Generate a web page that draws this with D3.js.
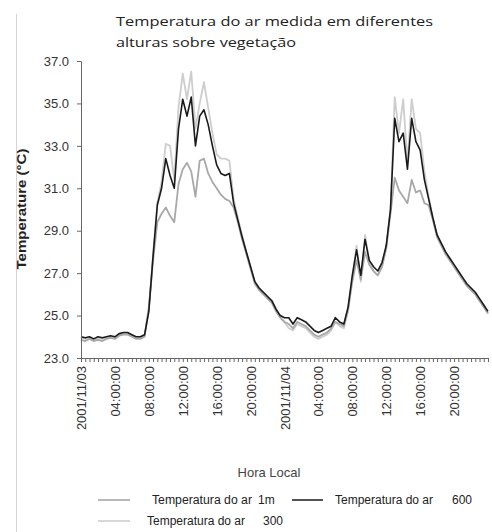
<!DOCTYPE html>
<html>
<head>
<meta charset="utf-8">
<script src="https://cdn.jsdelivr.net/npm/d3@7"></script>
<style>
  html, body { margin: 0; padding: 0; background: #fff; }
  svg { display: block; }
</style>
</head>
<body>
<svg id="chart" width="492" height="532"></svg>
<script>
// Air temperature readings, one value every 30 minutes from 2001/11/03 00:00
const startTime = new Date(2001, 10, 3, 0, 0);
const endTime = new Date(2001, 10, 5, 0, 0);
const stepMinutes = 30;

const seriesNames = ["Temperatura do ar  300", "Temperatura do ar  1m", "Temperatura do ar  600"];

const temp300 = [
  23.95, 23.9, 23.95, 23.85, 23.9, 23.9, 23.95, 24.0, 23.95, 24.1, 24.15, 24.15, 24.05, 23.95, 23.95, 24.05,
  25.3, 27.9, 30.3, 31.3, 33.1, 33.0, 31.4, 34.8, 36.4, 35.2, 36.5, 33.8, 35.0, 36.0, 34.8, 33.6,
  32.6, 32.4, 32.4, 32.3, 30.5, 29.6, 28.8, 28.0, 27.3, 26.6, 26.3, 26.1, 25.9, 25.7, 25.3, 24.9,
  24.7, 24.4, 24.3, 24.6, 24.5, 24.4, 24.2, 24.0, 23.9, 24.0, 24.1, 24.3, 24.7, 24.5, 24.4, 25.2,
  26.8, 28.3, 26.6, 28.8, 27.5, 27.1, 26.9, 27.3, 28.2, 30.0, 35.3, 33.6, 35.2, 32.2, 35.2, 33.8,
  33.6, 31.8, 30.6, 29.6, 28.7, 28.3, 27.9, 27.6, 27.3, 27.0, 26.7, 26.4, 26.2, 26.0, 25.7, 25.4,
  25.1
];

const temp1m = [
  23.85, 23.8, 23.9, 23.8, 23.85, 23.8, 23.9, 23.95, 23.9, 24.05, 24.1, 24.1, 24.0, 23.9, 23.9, 24.0,
  25.4, 27.6, 29.4, 29.8, 30.1, 29.7, 29.4, 31.2, 31.9, 32.2, 31.8, 30.6, 32.3, 32.4, 31.7, 31.3,
  31.0, 30.7, 30.5, 30.4, 30.1, 29.4, 28.6, 27.9, 27.2, 26.5, 26.2, 26.0, 25.8, 25.6, 25.2, 24.9,
  24.7, 24.6, 24.4, 24.7, 24.6, 24.5, 24.3, 24.1, 24.0, 24.1, 24.2, 24.4, 24.7, 24.6, 24.5, 25.3,
  26.6, 27.6, 26.7, 28.0, 27.4, 27.1, 26.9, 27.3, 28.2, 29.8, 31.5, 30.9, 30.6, 30.3, 31.4, 30.8,
  30.9, 30.3, 30.2, 29.5, 28.7, 28.3, 27.9, 27.6, 27.3, 27.0, 26.7, 26.4, 26.2, 26.0, 25.7, 25.4,
  25.1
];

const temp600 = [
  24.0, 23.95, 24.0, 23.9, 24.0, 23.95, 24.0, 24.05, 24.0, 24.15, 24.2, 24.2, 24.1, 24.0, 24.0, 24.1,
  25.2, 27.8, 30.2, 31.0, 32.4, 31.6, 31.0, 33.8, 35.2, 34.4, 35.3, 33.0, 34.4, 34.7, 34.0, 33.0,
  32.1, 31.7, 31.6, 31.7, 30.3, 29.5, 28.7, 28.0, 27.3, 26.6, 26.3, 26.1, 25.9, 25.7, 25.3, 25.0,
  24.9, 24.9, 24.6, 24.9, 24.8, 24.7, 24.5, 24.3, 24.2, 24.3, 24.4, 24.5, 24.9, 24.7, 24.6, 25.4,
  26.9, 28.1, 26.9, 28.6, 27.6, 27.3, 27.1, 27.5, 28.3, 30.0, 34.3, 33.2, 33.6, 31.9, 34.3, 33.2,
  32.8, 31.4, 30.5, 29.6, 28.8, 28.4, 28.0, 27.7, 27.4, 27.1, 26.8, 26.5, 26.3, 26.1, 25.8, 25.5,
  25.2
];

const yTicks = [23, 25, 27, 29, 31, 33, 35, 37];
const xTickLabels = [
  "2001/11/03", "04:00:00", "08:00:00", "12:00:00", "16:00:00", "20:00:00",
  "2001/11/04", "04:00:00", "08:00:00", "12:00:00", "16:00:00", "20:00:00"
];

const seriesValues = [temp300, temp1m, temp600];
const seriesColors = ["#cdcdcd", "#a8a8a8", "#1a1a1a"];

const svg = d3.select("#chart");

// faint frame edge on the left
svg.append("line")
  .attr("x1", 16.5).attr("x2", 16.5).attr("y1", 14).attr("y2", 532)
  .attr("stroke", "#d4d4d4").attr("stroke-width", 1);

const plotLeft = 81, plotRight = 488, plotTop = 61, plotBottom = 358;

const x = d3.scaleTime().domain([startTime, endTime]).range([plotLeft, plotRight]);
const y = d3.scaleLinear().domain([23, 37]).range([plotBottom, plotTop]);

const timeAt = i => d3.timeMinute.offset(startTime, i * stepMinutes);

// title
const title = svg.append("g")
  .attr("font-family", "'Open Sans', 'Noto Sans', sans-serif")
  .attr("font-size", 13.5)
  .attr("fill", "#222");
title.append("text").attr("x", 116).attr("y", 26)
  .attr("textLength", 317).attr("lengthAdjust", "spacingAndGlyphs")
  .text("Temperatura do ar medida em diferentes");
title.append("text").attr("x", 116).attr("y", 47)
  .attr("textLength", 180).attr("lengthAdjust", "spacingAndGlyphs")
  .text("alturas sobre vegetação");

// series lines
const line = d3.line()
  .x((d, i) => x(timeAt(i)))
  .y(d => y(d));

svg.append("g").selectAll("path")
  .data(seriesValues)
  .join("path")
  .attr("d", d => line(d))
  .attr("fill", "none")
  .attr("stroke", (d, i) => seriesColors[i])
  .attr("stroke-width", (d, i) => i === 2 ? 1.6 : 1.8)
  .attr("stroke-linejoin", "round");

// y axis
const yAxis = svg.append("g")
  .attr("transform", `translate(${plotLeft},0)`)
  .call(d3.axisLeft(y).tickValues(yTicks).tickFormat(d3.format(".1f")).tickSize(4).tickPadding(8));
yAxis.select(".domain").attr("stroke", "#666");
yAxis.selectAll(".tick line").attr("stroke", "#666");
yAxis.selectAll("text")
  .attr("font-family", "'Liberation Sans', Arial, sans-serif")
  .attr("font-size", 13).attr("fill", "#333");

// x axis: ticks every 30 minutes, labels every 4 hours
const labelTimes = d3.timeHour.every(4).range(startTime, endTime);
const labelFor = new Map(labelTimes.map((t, i) => [+t, xTickLabels[i]]));
const xAxis = svg.append("g")
  .attr("transform", `translate(0,${plotBottom})`)
  .call(d3.axisBottom(x)
    .tickValues(d3.timeMinute.every(stepMinutes).range(startTime, d3.timeMinute.offset(endTime, 1)))
    .tickSize(4)
    .tickFormat(t => labelFor.get(+t) || ""));
xAxis.select(".domain").attr("stroke", "#666");
xAxis.selectAll(".tick line").attr("stroke", "#666");
xAxis.selectAll("text")
  .attr("font-family", "'Liberation Sans', Arial, sans-serif")
  .attr("font-size", 13).attr("fill", "#333")
  .attr("text-anchor", "end")
  .attr("transform", "rotate(-90)")
  .attr("x", -8).attr("y", 0).attr("dy", "0.35em");

// axis titles
svg.append("text")
  .attr("transform", "translate(26,209) rotate(-90)")
  .attr("text-anchor", "middle")
  .attr("font-family", "'Liberation Sans', Arial, sans-serif")
  .attr("font-size", 13).attr("font-weight", "bold").attr("fill", "#222")
  .attr("textLength", 121).attr("lengthAdjust", "spacingAndGlyphs")
  .text("Temperature (°C)");

svg.append("text")
  .attr("x", 269).attr("y", 477)
  .attr("text-anchor", "middle")
  .attr("font-family", "'Liberation Sans', Arial, sans-serif")
  .attr("font-size", 13).attr("fill", "#444")
  .text("Hora Local");

// legend
const legendItems = [
  { s: 1, x1: 98, x2: 130, ty: 500, tx: 152, tw: 100, unit: "1m", ux: 258 },
  { s: 2, x1: 292, x2: 323, ty: 500, tx: 335, tw: 98, unit: "600", ux: 452 },
  { s: 0, x1: 98, x2: 130, ty: 521, tx: 147, tw: 98, unit: "300", ux: 263 }
];
const legend = svg.append("g")
  .attr("font-family", "'Liberation Sans Narrow', 'Liberation Sans', Arial, sans-serif")
  .attr("font-size", 12).attr("fill", "#222");
legendItems.forEach(it => {
  legend.append("line")
    .attr("x1", it.x1).attr("x2", it.x2).attr("y1", it.ty).attr("y2", it.ty)
    .attr("stroke", seriesColors[it.s]).attr("stroke-width", it.s === 2 ? 1.5 : 1.6);
  legend.append("text").attr("x", it.tx).attr("y", it.ty).attr("dy", "0.35em")
    .attr("textLength", it.tw).attr("lengthAdjust", "spacingAndGlyphs")
    .text(seriesNames[it.s].split("  ")[0]);
  legend.append("text").attr("x", it.ux).attr("y", it.ty).attr("dy", "0.35em")
    .attr("font-family", "'Liberation Sans', Arial, sans-serif")
    .text(it.unit);
});
</script>
</body>
</html>
